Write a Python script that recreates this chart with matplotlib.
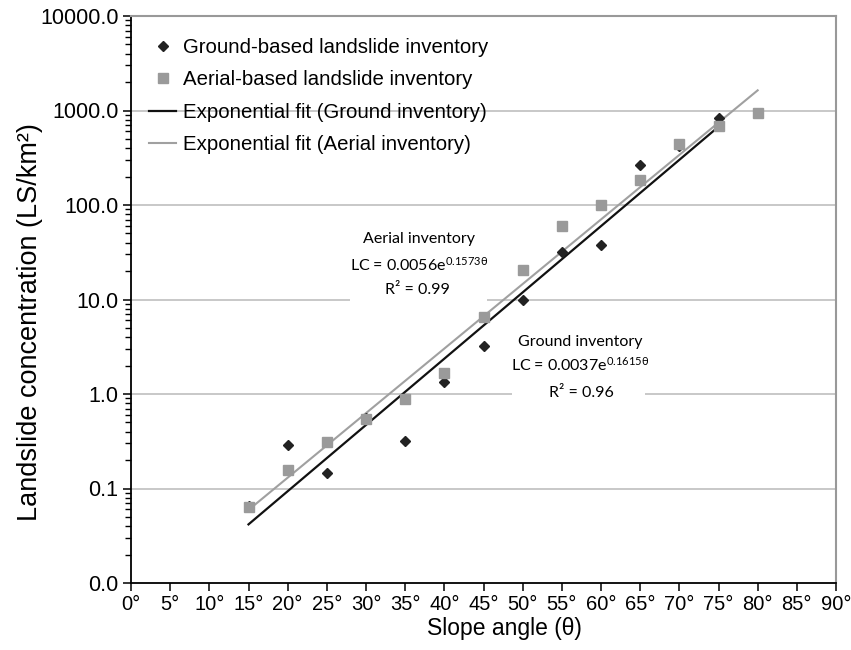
import numpy as np
import matplotlib
matplotlib.use("Agg")
import matplotlib.pyplot as plt
from matplotlib.ticker import FixedLocator, FuncFormatter, LogLocator, NullFormatter
from matplotlib.patches import Rectangle

plt.rcParams['font.family'] = ['Liberation Sans', 'DejaVu Sans']
plt.rcParams['mathtext.fontset'] = 'custom'
plt.rcParams['mathtext.rm'] = 'Lato'
plt.rcParams['mathtext.default'] = 'rm'

# values
ground_angle = [15, 20, 25, 30, 35, 40, 45, 50, 55, 60, 65, 70, 75]
ground_lc = [0.066, 0.29, 0.147, 0.56, 0.32, 1.35, 3.2, 9.8, 32, 38, 268, 420, 836]
aerial_angle = [15, 20, 25, 30, 35, 40, 45, 50, 55, 60, 65, 70, 75, 80]
aerial_lc = [0.064, 0.157, 0.31, 0.54, 0.89, 1.68, 6.6, 20.7, 59.5, 100, 185, 440, 682, 946]

# exponential fits as printed on the chart
ground_fit = (0.0037, 0.1615)
aerial_fit = (0.0056, 0.1573)

x_ticks = list(range(0, 95, 5))
y_ticks = [0.01, 0.1, 1, 10, 100, 1000, 10000]

fig = plt.figure(figsize=(8.51, 6.5), dpi=100)
ax = fig.add_axes([131 / 851, 1 - 583 / 650, 705 / 851, 567 / 650])

ax.set_yscale('log')
ax.set_xlim(0, 90)
ax.set_ylim(0.01, 10000)

# gridlines
for v in y_ticks[1:-1]:
    ax.axhline(v, color='#c4c4c4', lw=1.3, zorder=0.5)

# white text boxes hiding the grid
ax.add_patch(Rectangle((0.311, 0.49), 0.194, 0.14, transform=ax.transAxes,
                       facecolor='white', edgecolor='none', zorder=1))
ax.add_patch(Rectangle((0.540, 0.323), 0.189, 0.127, transform=ax.transAxes,
                       facecolor='white', edgecolor='none', zorder=1))

xg = np.linspace(ground_angle[0], ground_angle[-1], 50)
xa = np.linspace(aerial_angle[0], aerial_angle[-1], 50)

ax.plot(ground_angle, ground_lc, 'D', color='#222222', ms=5.5, zorder=3,
        label='Ground-based landslide inventory')
ax.plot(aerial_angle, aerial_lc, 's', color='#9a9a9a', ms=7, zorder=3,
        label='Aerial-based landslide inventory')
ax.plot(xg, ground_fit[0] * np.exp(ground_fit[1] * xg), color='#111111', lw=1.6,
        zorder=2, label='Exponential fit (Ground inventory)')
ax.plot(xa, aerial_fit[0] * np.exp(aerial_fit[1] * xa), color='#a0a0a0', lw=1.5,
        zorder=2, label='Exponential fit (Aerial inventory)')

# axes styling
for s in ['top', 'right']:
    ax.spines[s].set_color('#999999')
    ax.spines[s].set_linewidth(1.5)
for s in ['left', 'bottom']:
    ax.spines[s].set_color('black')
    ax.spines[s].set_linewidth(1.3)

ax.xaxis.set_major_locator(FixedLocator(x_ticks))
ax.set_xticklabels([f"{t}°" for t in x_ticks])
ax.yaxis.set_major_locator(FixedLocator(y_ticks))
ax.yaxis.set_major_formatter(FuncFormatter(lambda v, p: f"{v:.1f}"))
ax.yaxis.set_minor_locator(LogLocator(base=10, subs=np.arange(2, 10)))
ax.yaxis.set_minor_formatter(NullFormatter())

ax.tick_params(axis='x', which='major', length=6, width=1.1, labelsize=14.5, pad=3)
ax.tick_params(axis='y', which='major', length=6, width=1.1, labelsize=15.5, pad=3)
ax.tick_params(axis='y', which='minor', length=4, width=1.0)

ax.set_xlabel('Slope angle (θ)', fontsize=16.5)
ax.xaxis.set_label_coords(0.53, -0.06)
ax.set_ylabel('Landslide concentration (LS/km²)', fontsize=19.5)
ax.yaxis.set_label_coords(-0.125, 0.46)

leg = ax.legend(loc='upper left', bbox_to_anchor=(0.003, 0.99), frameon=False,
                fontsize=14.65, handlelength=1.3, handletextpad=0.35,
                labelspacing=0.66, borderaxespad=0.4)

# fit annotations
ann = dict(ha='center', va='center', fontsize=11.5, family='Lato', zorder=4,
           transform=ax.transAxes)
ax.text(0.4085, 0.607, 'Aerial inventory', **ann)
ax.text(0.4085, 0.561, 'LC = 0.0056e$^{0.1573θ}$', **ann)
ax.text(0.406, 0.517, 'R² = 0.99', **ann)
ax.text(0.637, 0.425, 'Ground inventory', **ann)
ax.text(0.637, 0.385, 'LC = 0.0037e$^{0.1615θ}$', **ann)
ax.text(0.639, 0.335, 'R² = 0.96', **ann)

fig.savefig('out.png', dpi=100)
